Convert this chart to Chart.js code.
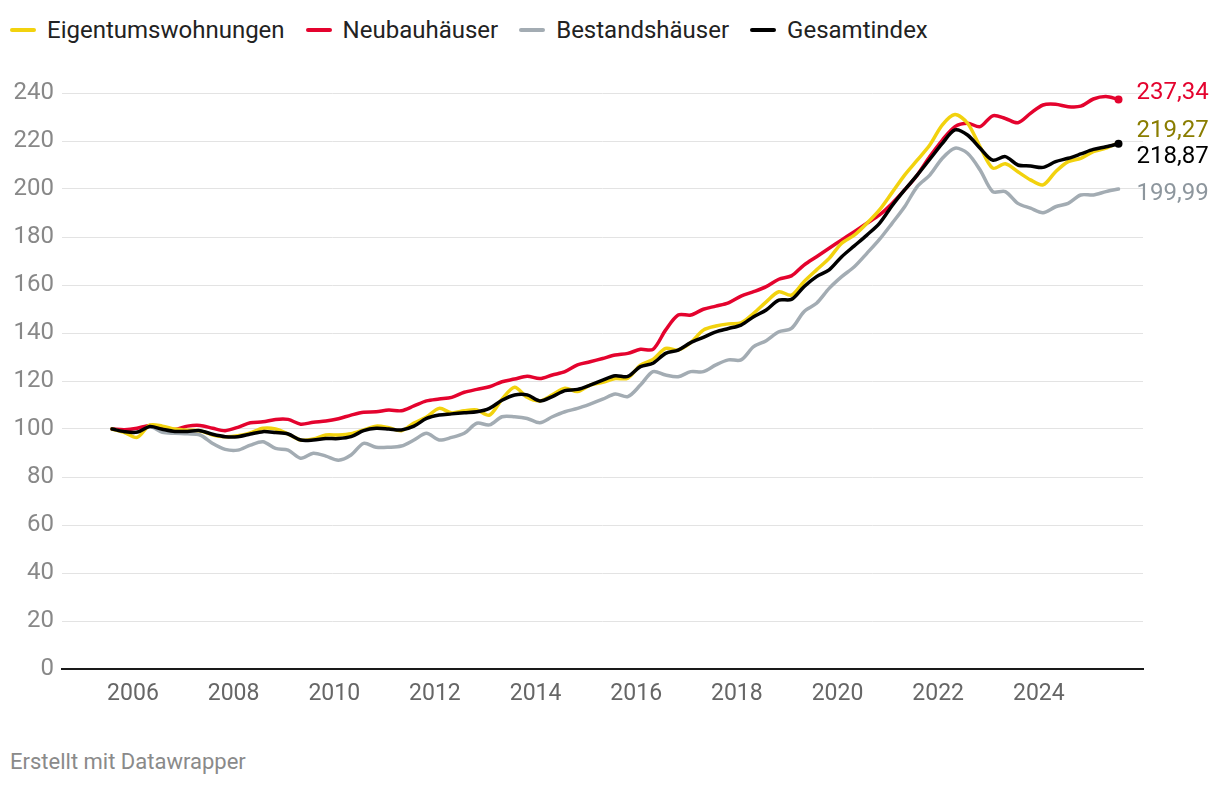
<!DOCTYPE html>
<html>
<head>
<meta charset="utf-8">
<script src="https://cdn.jsdelivr.net/npm/chart.js@4.4.1/dist/chart.umd.min.js"></script>
<style>
  body { margin: 0; background: #fff; font-family: Roboto, sans-serif; }
  #legend { position: absolute; left: 10px; top: 15px; display: flex; font-size: 24px; color: #222; line-height: 30px; }
  .item { display: flex; align-items: center; margin-right: 21px; }
  .sw { width: 26px; height: 4px; border-radius: 2px; margin-right: 11px; }
  #wrap { position: absolute; left: 0; top: 60px; width: 1220px; height: 660px; }
  #foot { position: absolute; left: 10px; top: 749px; font-size: 22px; color: #8a8a8a; }
</style>
</head>
<body>
<div id="legend"></div>
<div id="wrap"><canvas id="chart"></canvas></div>
<div id="foot">Erstellt mit Datawrapper</div>
<script>
// Quartalswerte ab Aug 2005 bis Aug 2025 (Index, 2005 = 100)
const names = ['Eigentumswohnungen', 'Neubauhäuser', 'Bestandshäuser', 'Gesamtindex'];
const colors = ['#f2d20e', '#e4032e', '#a3acb3', '#000000'];
const labelColors = ['#8a7d00', '#e4032e', '#8d969d', '#000000'];
const labelDy = [-12, -6, 5, 13];

const wohnungen = [100, 98.5, 96.5, 101.6, 101.2, 100, 99.5, 99.3, 97.5, 96.8,
  97.2, 98.4, 100.3, 100, 97.9, 95.4, 95.8, 97.5, 97.5, 98,
  99.6, 101.2, 100.5, 99.3, 102.5, 105, 108.6, 106.7, 107.6, 107.9,
  105.8, 112.4, 117.4, 113.2, 111.7, 114.2, 117, 115.6, 118.3, 119.5,
  121, 121.2, 126.6, 129, 133.6, 132.9, 136, 141.2, 142.9, 143.8,
  144.2, 148.2, 153, 157.2, 155.8, 161.4, 166.3, 171.1, 177.4, 180.8,
  185.7, 191.3, 198.5, 205.8, 212, 218.3, 226.7, 231, 227.4, 217.6,
  208.7, 210.5, 207.2, 203.8, 201.7, 207.2, 211.4, 212.8, 215.6, 217, 219.27];

const neubau = [100, 99.7, 100.3, 101.5, 100.5, 99.8, 101.2, 101.5, 100.3, 99.3,
  100.7, 102.6, 103, 104, 104, 102, 102.8, 103.3, 104.3, 105.8,
  107, 107.2, 107.9, 107.6, 109.6, 111.7, 112.5, 113.2, 115.3, 116.5,
  117.6, 119.7, 120.8, 122, 121, 122.5, 123.9, 126.7, 128, 129.4,
  130.8, 131.5, 133.2, 133.2, 141.2, 147.5, 147.5, 149.9, 151.2, 152.6,
  155.4, 157.2, 159.3, 162.4, 163.8, 168.3, 171.8, 175.3, 178.8, 182.2,
  185.7, 189.2, 194, 199.6, 205.8, 213.5, 220.4, 226, 227.4, 226,
  230.5, 229.4, 227.6, 231.5, 235, 235.3, 234.3, 234.5, 237.5, 238.5, 237.34];

const bestand = [100, 99, 98.7, 101, 98.6, 98.2, 98, 97.5, 94, 91.5,
  91.2, 93.3, 94.7, 91.9, 91.2, 87.8, 89.9, 88.7, 87, 89.2,
  94, 92.4, 92.4, 92.9, 95.4, 98.2, 95.4, 96.5, 98.2, 102.4,
  101.7, 105.1, 105.1, 104.4, 102.6, 105.1, 107.2, 108.6, 110.4, 112.4,
  114.6, 113.5, 118.3, 123.9, 122.5, 121.8, 123.9, 123.9, 126.7, 128.8,
  128.8, 134.3, 136.8, 140.5, 141.9, 148.9, 152.4, 158.6, 163.5, 167.6,
  173.2, 179, 185.7, 192.6, 201, 205.8, 212.8, 217, 214.9, 207.9,
  198.9, 198.9, 194, 192, 190.1, 192.6, 194, 197.5, 197.5, 198.9, 199.99];

const gesamt = [100, 98.9, 98.7, 101, 99.9, 99, 99, 99.3, 97.8, 96.8,
  96.8, 97.9, 98.9, 98.5, 97.9, 95.4, 95.4, 96, 96, 96.8,
  99.3, 100.3, 100, 99.6, 101.2, 104.4, 105.8, 106.3, 106.8, 107.2,
  108.6, 112, 114.2, 114.2, 111.7, 113.5, 116, 116.5, 118.3, 120.4,
  122.2, 121.9, 126, 127.4, 131.5, 132.9, 136, 138.2, 140.5, 141.9,
  143.3, 146.8, 149.6, 153.7, 154, 159.3, 163.5, 166.3, 171.8, 176.3,
  180.8, 185.7, 193, 199.6, 205.8, 212.4, 219, 224.6, 222.5, 217,
  212, 213.5, 210, 209.6, 209, 211.4, 212.8, 214.6, 216.5, 217.6, 218.87];

const yearTicks = [2006, 2008, 2010, 2012, 2014, 2016, 2018, 2020, 2022, 2024];

// Zeitachse: alle drei Monate ab August 2005
const months = [];
for (let i = 0; i < wohnungen.length; i++) {
  const total = 2005 * 12 + 7 + i * 3;
  months.push(Math.floor(total / 12) + (total % 12) / 12);
}

const series = [wohnungen, neubau, bestand, gesamt];
const drawOrder = [1, 2, 3, 0];
const endDot = [false, true, false, true];

// Legende
const legend = document.getElementById('legend');
names.forEach((n, i) => {
  const it = document.createElement('div');
  it.className = 'item';
  it.innerHTML = '<span class="sw" style="background:' + colors[i] + '"></span><span>' + n + '</span>';
  legend.appendChild(it);
});

const endLabels = {
  id: 'endLabels',
  afterDatasetsDraw(chart) {
    const ctx = chart.ctx;
    chart.data.datasets.forEach((ds, i) => {
      const meta = chart.getDatasetMeta(i);
      const p = meta.data[meta.data.length - 1];
      const v = series[i][series[i].length - 1];
      ctx.save();
      ctx.font = '24px Roboto';
      ctx.fillStyle = labelColors[i];
      ctx.textBaseline = 'middle';
      ctx.fillText(v.toFixed(2).replace('.', ','), p.x + 18, p.y + labelDy[i]);
      ctx.restore();
    });
  }
};

const ctx = document.getElementById('chart').getContext('2d');
new Chart(ctx, {
  type: 'line',
  data: {
    datasets: series.map((s, i) => ({
      label: names[i],
      data: s.map((v, j) => ({ x: months[j], y: v })),
      borderColor: colors[i],
      backgroundColor: colors[i],
      borderWidth: 3.5,
      tension: 0.3,
      order: drawOrder[i],
      pointRadius: c => (endDot[i] && c.dataIndex === s.length - 1) ? 4 : 0,
      pointBorderWidth: 0,
      pointHoverRadius: 0,
      borderCapStyle: 'round',
      borderJoinStyle: 'round'
    }))
  },
  options: {
    responsive: true,
    maintainAspectRatio: false,
    animation: false,
    layout: { padding: { top: 33, right: 77, left: 0, bottom: 0 } },
    plugins: { legend: { display: false }, tooltip: { enabled: false } },
    scales: {
      x: {
        type: 'linear',
        min: 2004.59,
        max: 2026.07,
        afterBuildTicks: scale => { scale.ticks = yearTicks.map(v => ({ value: v })); },
        afterFit: scale => { scale.height = 51; },
        ticks: {
          color: '#666',
          font: { family: 'Roboto', size: 23 },
          padding: 11,
          maxRotation: 0,
          autoSkip: false,
          callback: v => String(v)
        },
        grid: { display: true, drawOnChartArea: false, drawTicks: false },
        border: { display: true, color: '#1a1a1a', width: 2 }
      },
      y: {
        min: 0,
        max: 240,
        afterFit: scale => { scale.width = 62; },
        ticks: {
          stepSize: 20,
          color: '#888',
          font: { family: 'Roboto', size: 24 },
          padding: 8
        },
        grid: { color: '#e3e3e3', lineWidth: 1, drawTicks: false },
        border: { display: false }
      }
    }
  },
  plugins: [endLabels]
});
</script>
</body>
</html>
